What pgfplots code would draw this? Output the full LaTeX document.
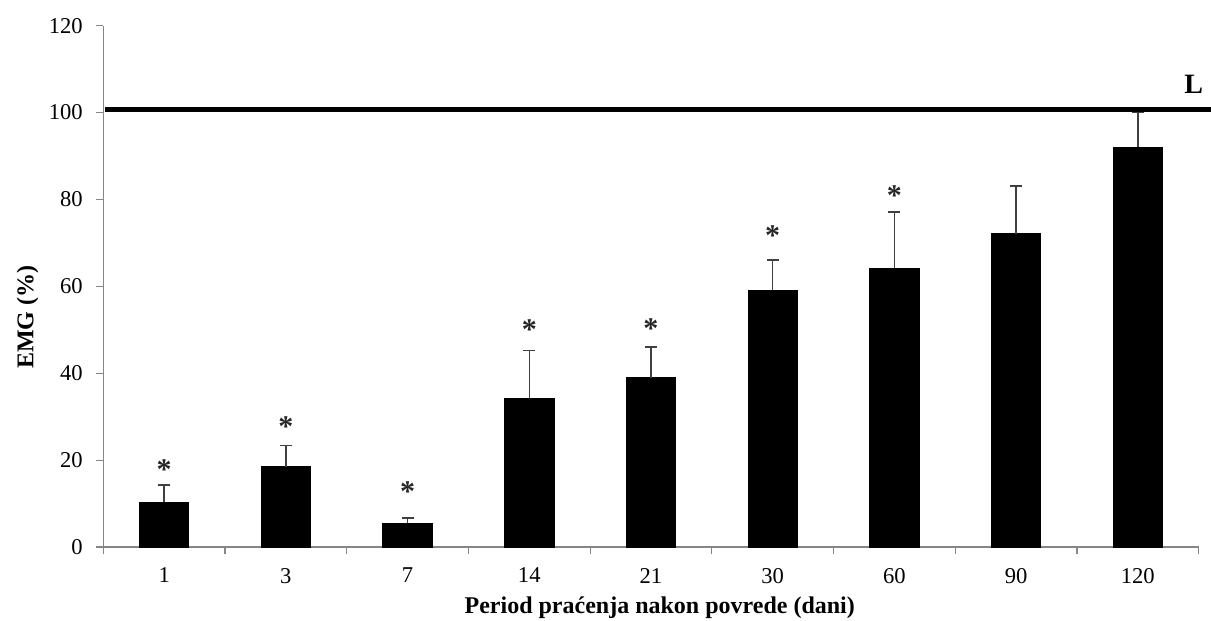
\documentclass[border=0pt]{standalone}
\usepackage{fontspec}
\setmainfont{Liberation Serif}
\usepackage{pgfplots}
\pgfplotsset{compat=1.18}
\usepackage{pgfplotstable}
\definecolor{axgray}{HTML}{868686}
\definecolor{errgray}{HTML}{404040}

\pgfplotstableread{
x val err
0 10.3 4.0
1 18.5 4.8
2 5.5 1.2
3 34.2 11.1
4 39.0 7.0
5 59.1 7.0
6 64.2 12.9
7 72.1 11.0
8 92.0 8.1
}\bars

\pgfplotstableread{
x y
0 18.9
1 28.8
2 13.8
3 51.2
4 51.4
5 72.8
6 81.9
}\stars

\pgfplotstableread{
x y
-0.486 100.7
8.6 100.7
}\refline

\begin{document}
\begin{tikzpicture}[x=1pt,y=1pt]
\begin{axis}[
  scale only axis,
  width=547.7pt, height=260.65pt,
  at={(0,0)}, anchor=south west,
  xmin=-0.5, xmax=8.5, ymin=0, ymax=120,
  axis lines*=left,
  axis line style={axgray, line width=0.6pt},
  clip=false,
  xtick={-0.5,0.5,1.5,2.5,3.5,4.5,5.5,6.5,7.5,8.5},
  xticklabels={,,,,,,,,,},
  extra x ticks={0,1,2,3,4,5,6,7,8},
  extra x tick labels={1,3,7,14,21,30,60,90,120},
  extra x tick style={major tick length=0pt},
  ytick={0,20,40,60,80,100,120},
  tick align=outside,
  tick style={axgray, line width=0.6pt},
  major tick length=3.75pt,
  /pgf/number format/assume math mode=true,
  ticklabel style={font=\fontsize{11.3}{13}\selectfont, text=black},
  xticklabel style={yshift=-7pt},
  yticklabel style={xshift=-3pt},
  xlabel={\textbf{Period praćenja nakon povrede (dani)}},
  xlabel style={at={(axis description cs:0.508,-0.117)}, anchor=center, font=\fontsize{12}{14}\selectfont},
  ylabel={\textbf{EMG (\%)}},
  ylabel style={at={(axis description cs:-0.069,0.441)}, anchor=center, font=\fontsize{12}{14}\selectfont},
]
\addplot[ybar, bar width=0.406, fill=black, draw=black,
  error bars/.cd, y dir=plus, y explicit,
  error mark=|,
  error bar style={errgray, line width=0.7pt},
  error mark options={errgray, line width=0.7pt, mark size=3pt}]
  table[x=x, y=val, y error=err]{\bars};
\addplot[draw=none, mark=none, nodes near coords={*},
  every node near coord/.style={anchor=center, yshift=-2.4pt, font=\bfseries\fontsize{15}{17}\selectfont, text=black!85}]
  table[x=x, y=y]{\stars};
\addplot[black, line width=2.2pt, mark=none] table[x=x, y=y]{\refline};
\node[font=\bfseries\fontsize{14}{16}\selectfont, anchor=center] at (axis cs:8.46,106.4) {L};
\end{axis}
\pgfresetboundingbox
\path[use as bounding box] (-51.65,-37) rectangle (553.85,273.5);
\end{tikzpicture}
\end{document}
